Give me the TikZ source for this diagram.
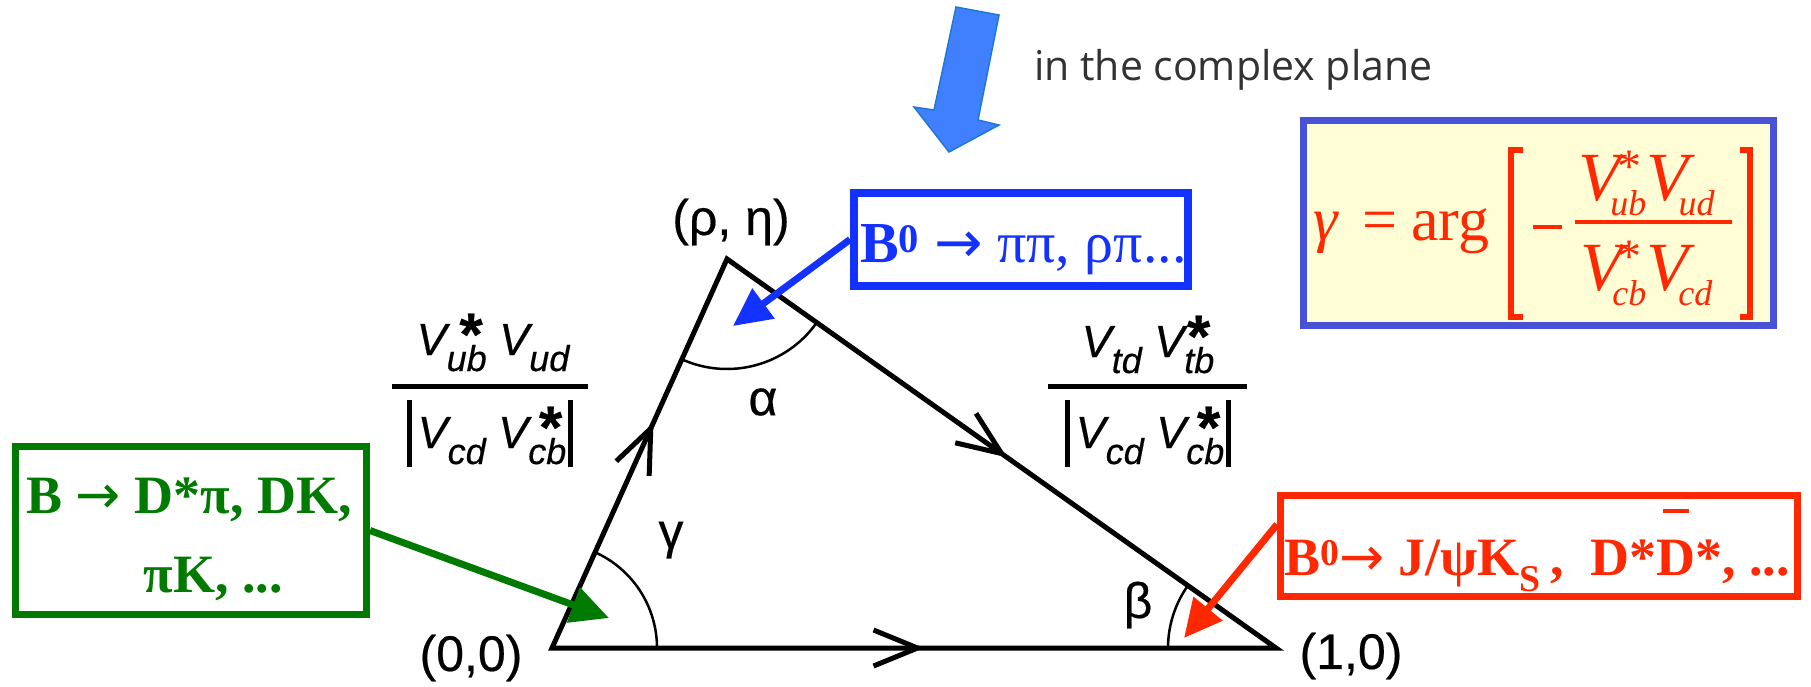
\documentclass[tikz,border=0pt]{standalone}
\usepackage{fontspec}
\setmainfont{Liberation Serif}
\setsansfont{Liberation Sans}
\newfontfamily\handfont{Open Sans}
\newfontfamily\labfont{Liberation Sans}[FakeBold=0.4]
\newfontfamily\arrfont{DejaVu Sans}
\usetikzlibrary{arrows.meta,decorations.markings,calc}

\definecolor{cgreen}{RGB}{0,122,0}
\definecolor{cblue}{RGB}{20,50,255}
\definecolor{cred}{RGB}{255,40,0}
\definecolor{cframe}{RGB}{72,82,214}
\definecolor{cyell}{RGB}{255,253,214}
\definecolor{carrow}{RGB}{64,128,255}
\definecolor{carrowedge}{RGB}{30,120,210}
\definecolor{cgray}{RGB}{50,50,50}

\newcommand{\rarr}{{\arrfont\mdseries →}}
% sans CKM element: V with subscript #1 and superscript #2
\newcommand{\ckmsans}[2]{%
  {\itshape V}%
  \setbox0=\hbox{\fontsize{36}{36}\selectfont\itshape #1}%
  \rlap{\raisebox{-16pt}{\copy0}}%
  \hbox to \wd0{\hss{\fontsize{60}{60}\selectfont\bfseries #2}\hspace{4pt}}}
% serif CKM element
\newcommand{\ckmserif}[2]{%
  {\fontsize{69}{69}\selectfont\itshape V}\hspace{-10pt}%
  \setbox0=\hbox{\fontsize{36}{36}\selectfont\itshape #1}%
  \rlap{\raisebox{-15pt}{\copy0}}%
  \hbox to \wd0{\hss\raisebox{18pt}{\fontsize{48}{48}\selectfont #2}\hspace{5pt}}}
\newcommand{\absbar}{\rule[-19pt]{5pt}{67pt}}

\begin{document}
\begin{tikzpicture}[x=1pt,y=-1pt,
  every node/.style={inner sep=0pt},
  tri/.style={line width=5pt, line join=miter},
  angarc/.style={line width=2.5pt},
  midarrow/.style={line width=5pt, postaction={decorate},
    decoration={markings, mark=at position #1 with {\arrow{Straight Barb[length=44pt,width=36pt]}}}},
  lab/.style={font=\labfont\fontsize{50}{60}\selectfont},
  ckmfont/.style={font=\labfont\fontsize{45}{45}\selectfont},
  fracbar/.style={line width=5pt},
  boxframe/.style={draw, line width=#1},
  pointer/.style={line width=7pt, -{Triangle[length=38pt,width=36pt]}},
]
\useasboundingbox (0,0) rectangle (1811,686);

% big blue block arrow
\filldraw[fill=carrow, draw=carrowedge, line width=1.5pt, line join=miter]
  (956,7) -- (999,15) -- (978,120) -- (999,125) -- (949,152) -- (914,107) -- (934,110) -- cycle;
\node[anchor=base west, font=\handfont\fontsize{41}{41}\selectfont, text=cgray] (cplx) at (1034,80) {in the complex plane};

% triangle
\coordinate (O) at (552,648);
\coordinate (R) at (1276,648);
\coordinate (A) at (727,259);
\draw[tri] (O) -- (R) -- (A) -- cycle;
\path[midarrow=0.514] (O) -- (R);
\path[midarrow=0.58] (O) -- (A);
\path[midarrow=0.51] (A) -- (R);

% angle arcs
\draw[angarc] (O) ++(0:105) arc[start angle=0, end angle=-65.78, radius=105];
\draw[angarc] (A) ++(35.25:110) arc[start angle=35.25, end angle=114.22, radius=110];
\draw[angarc] (R) ++(180:108) arc[start angle=180, end angle=215.25, radius=108];

% vertex and angle labels
\node[lab] (l00) at (471,658) {(0,0)};
\node[lab] (l10) at (1351,656) {(1,0)};
\node[lab] (lre) at (731,222) {(ρ, η)};
\node[lab] (lgam) at (671,540) {γ};
\node[lab] (lalp) at (763,402) {α};
\node[lab] (lbet) at (1138,605) {β};

% side fractions
\node[ckmfont, anchor=base] (fn1) at (493,355) {\ckmsans{ub}{*}\ \ckmsans{ud}{}};
\node[ckmfont, anchor=base] (fd1) at (490,448) {\absbar\hspace{6pt}\ckmsans{cd}{}\ \ckmsans{cb}{*}\hspace{2pt}\absbar};
\draw[fracbar] (392,386) -- (588,386);
\node[ckmfont, anchor=base] (fn2) at (1148,357) {\ckmsans{td}{}\ \ckmsans{tb}{*}};
\node[ckmfont, anchor=base] (fd2) at (1148,448) {\absbar\hspace{6pt}\ckmsans{cd}{}\ \ckmsans{cb}{*}\hspace{2pt}\absbar};
\draw[fracbar] (1048,386) -- (1247,386);

% formula box
\node[boxframe=7pt, draw=cframe, fill=cyell, minimum width=470pt, minimum height=205pt] (fbox) at (1538.5,223) {};
\node[anchor=base west, text=cred, font=\fontsize{62}{62}\selectfont\itshape] (fgam) at (1313,240) {γ};
\node[text=cred, font=\fontsize{62}{62}\selectfont] (feq) at (1380,226) {=};
\node[anchor=base west, text=cred, font=\fontsize{62}{62}\selectfont] (farg) at (1411,240) {arg};
\draw[cred, line width=6pt] (1523,150) -- (1511,150) -- (1511,317) -- (1523,317);
\draw[cred, line width=6pt] (1740,150) -- (1750,150) -- (1750,317) -- (1740,317);
\draw[cred, line width=4pt] (1533,227) -- (1562,227);
\draw[cred, line width=4pt] (1575,222) -- (1732,222);
\node[anchor=base west, text=cred] (fnum) at (1578,200) {\ckmserif{ub}{*}\ckmserif{ud}{}};
\node[anchor=base west, text=cred] (fden) at (1580,290) {\ckmserif{cb}{*}\ckmserif{cd}{}};

% blue box
\node[boxframe=8pt, draw=cblue, minimum width=334pt, minimum height=93pt] (bbox) at (1021,239.5) {};
\node[anchor=base west, text=cblue, font=\fontsize{58}{58}\selectfont] (btext) at (860,262) {\textbf{B}\textsuperscript{\textbf{0}} \rarr{} ππ, ρπ...};
\coordinate (btip) at (733,326);
\draw[pointer, cblue] (bbox.west) -- (btip);

% green box
\node[boxframe=7pt, draw=cgreen, minimum width=351pt, minimum height=168pt] (gbox) at (191,530.5) {};
\node[anchor=base, text=cgreen, font=\bfseries\fontsize{54}{54}\selectfont] (gt1) at (189,513) {B \rarr{} D*π, DK,};
\node[anchor=base, text=cgreen, font=\bfseries\fontsize{54}{54}\selectfont] (gt2) at (213,592) {πK, ...};
\coordinate (gtip) at (609,618);
\draw[pointer, cgreen] (gbox.east) -- (gtip);

% red box
\node[boxframe=7pt, draw=cred, minimum width=517pt, minimum height=101pt] (rbox) at (1539,546) {};
\node[anchor=base west, text=cred, font=\bfseries\fontsize{54}{54}\selectfont] (rtext) at (1284,575)
  {B\textsuperscript{0}\rarr{} J/ψK\textsubscript{S}\,, \ D*\makebox[0pt][l]{\hspace{6pt}\raisebox{62pt}{\rule{26pt}{4pt}}}D*, ...};
\coordinate (rtip) at (1184,638);
\draw[pointer, cred] ($(rbox.north west)!0.3!(rbox.south west)$) -- (rtip);
\end{tikzpicture}
\end{document}
